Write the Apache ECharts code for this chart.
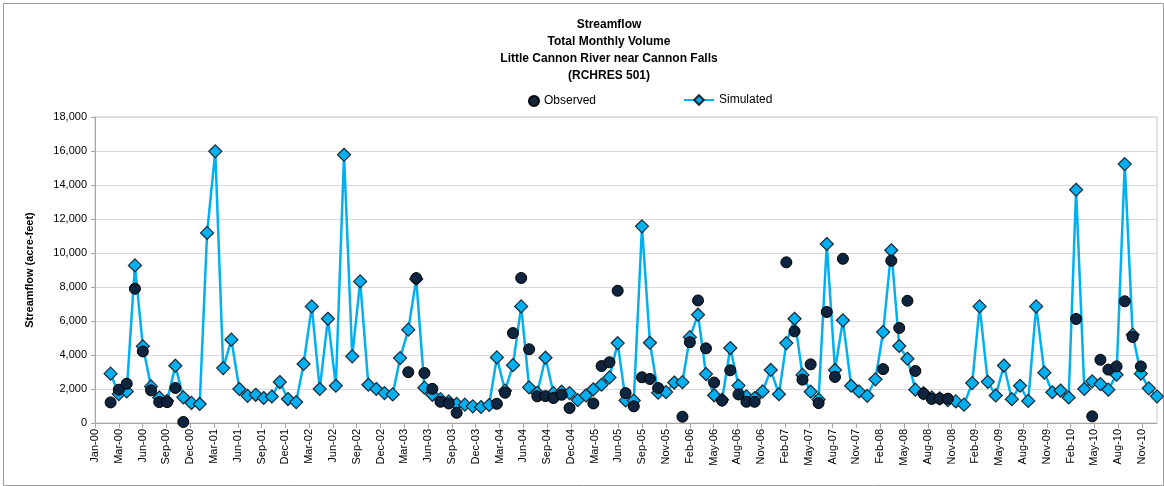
<!DOCTYPE html>
<html>
<head>
<meta charset="utf-8">
<script src="https://cdn.jsdelivr.net/npm/echarts@6/dist/echarts.min.js"></script>
<style>
html,body{margin:0;padding:0;background:#fff;}
#chart{width:1164px;height:486px;}
</style>
</head>
<body>
<div id="chart"></div>
<script>
// Months (values stamped at month end)
const months = [
  '2000-02','2000-03','2000-04','2000-05','2000-06','2000-07','2000-08','2000-09','2000-10','2000-11','2000-12',
  '2001-01','2001-02','2001-03','2001-04','2001-05','2001-06','2001-07','2001-08','2001-09','2001-10','2001-11','2001-12',
  '2002-01','2002-02','2002-03','2002-04','2002-05','2002-06','2002-07','2002-08','2002-09','2002-10','2002-11','2002-12',
  '2003-01','2003-02','2003-03','2003-04','2003-05','2003-06','2003-07','2003-08','2003-09','2003-10','2003-11','2003-12',
  '2004-01','2004-02','2004-03','2004-04','2004-05','2004-06','2004-07','2004-08','2004-09','2004-10','2004-11','2004-12',
  '2005-01','2005-02','2005-03','2005-04','2005-05','2005-06','2005-07','2005-08','2005-09','2005-10','2005-11','2005-12',
  '2006-01','2006-02','2006-03','2006-04','2006-05','2006-06','2006-07','2006-08','2006-09','2006-10','2006-11','2006-12',
  '2007-01','2007-02','2007-03','2007-04','2007-05','2007-06','2007-07','2007-08','2007-09','2007-10','2007-11','2007-12',
  '2008-01','2008-02','2008-03','2008-04','2008-05','2008-06','2008-07','2008-08','2008-09','2008-10','2008-11','2008-12',
  '2009-01','2009-02','2009-03','2009-04','2009-05','2009-06','2009-07','2009-08','2009-09','2009-10','2009-11','2009-12',
  '2010-01','2010-02','2010-03','2010-04','2010-05','2010-06','2010-07','2010-08','2010-09','2010-10','2010-11','2010-12'
];

const simulated = [
  2900,1700,1860,9270,4510,2150,1500,1300,3370,1510,1180,
  1120,11180,15980,3230,4900,2000,1600,1660,1470,1560,2410,1410,
  1230,3470,6860,2000,6130,2190,15780,3920,8330,2250,2000,1760,
  1680,3820,5490,8470,2080,1660,1400,1270,1120,1080,980,940,
  1060,3860,1900,3400,6860,2100,1780,3840,1760,1840,1760,1350,
  1620,1980,2250,2680,4700,1330,1320,11570,4720,1780,1820,2380,
  2400,5050,6370,2880,1630,1370,4410,2200,1570,1470,1860,3120,
  1690,4700,6130,2830,1840,1380,10530,3120,6040,2190,1860,1600,
  2570,5350,10160,4530,3780,1960,1760,1500,1450,1350,1270,1080,
  2350,6860,2420,1620,3380,1400,2190,1300,6860,2960,1810,1910,
  1500,13720,2000,2450,2290,1960,2840,15230,5190,2900,2040,1570
];

const observed = [
  1210,1960,2310,7900,4210,1920,1230,1230,2060,60,null,
  null,null,null,null,null,null,null,null,null,null,null,null,
  null,null,null,null,null,null,null,null,null,null,null,null,
  null,null,2990,8520,2940,2010,1250,1150,600,null,null,null,
  null,1130,1780,5290,8530,4340,1570,1580,1470,1660,880,null,
  null,1150,3350,3570,7780,1760,980,2690,2590,2060,null,null,
  370,4750,7210,4390,2380,1320,3100,1680,1250,1250,null,null,
  null,9450,5390,2550,3450,1170,6530,2710,9660,null,null,null,
  null,3170,9550,5590,7190,3060,1720,1420,1430,1430,null,null,
  null,null,null,null,null,null,null,null,null,null,null,null,
  null,6120,null,390,3720,3140,3330,7160,5060,3330,null,null
];

const monthNames = ['Jan','Feb','Mar','Apr','May','Jun','Jul','Aug','Sep','Oct','Nov','Dec'];
const DAY = 86400000;
const ORIGIN = Date.UTC(2000, 0, 1);
const AXIS_END = Date.UTC(2010, 11, 31);
const TICK_DAYS = 90;

function monthEndDay(s) {
  const [y, m] = s.split('-').map(Number);
  return Math.round((Date.UTC(y, m, 0) - ORIGIN) / DAY);
}
const xDays = months.map(monthEndDay);
const simData = months.map((m, i) => [xDays[i], simulated[i]]);
const obsData = months.map((m, i) => [xDays[i], observed[i]]).filter(d => d[1] !== null);

const maxDay = Math.round((AXIS_END - ORIGIN) / DAY);
const tickVals = [];
for (let d = 0; d <= maxDay; d += TICK_DAYS) tickVals.push(d);

function fmtDay(v) {
  const d = new Date(ORIGIN + v * DAY);
  return monthNames[d.getUTCMonth()] + '-' + String(d.getUTCFullYear() % 100).padStart(2, '0');
}

const FONT = 'Liberation Sans, Arial, sans-serif';
const chart = echarts.init(document.getElementById('chart'), null, {renderer: 'canvas'});
chart.setOption({
  animation: false,
  backgroundColor: '#ffffff',
  title: {
    text: 'Streamflow\nTotal Monthly Volume\nLittle Cannon River near Cannon Falls\n(RCHRES 501)',
    left: 604, top: 11, textAlign: 'center',
    textStyle: {fontFamily: FONT, fontSize: 12, fontWeight: 'bold', color: '#000', lineHeight: 17}
  },
  legend: [
    {
      data: [{name: 'Observed', icon: 'circle'}],
      left: 523, top: 90, itemWidth: 10, itemHeight: 10, itemGap: 4,
      textStyle: {fontFamily: FONT, fontSize: 12, color: '#000'}
    },
    {
      data: [{name: 'Simulated'}],
      left: 678, top: 89, itemWidth: 30, itemHeight: 12, itemGap: 3,
      textStyle: {fontFamily: FONT, fontSize: 12, color: '#000'}
    }
  ],
  graphic: [{
    type: 'rect', left: 1, top: 1, silent: true,
    shape: {width: 1160, height: 482},
    style: {fill: 'none', stroke: '#9a9a9a', lineWidth: 1}
  }],
  grid: {left: 95, right: 7, top: 117, bottom: 63, show: true, borderColor: '#c8c8c8', borderWidth: 1},
  xAxis: {
    type: 'value', min: 0, max: maxDay,
    axisLine: {show: true, lineStyle: {color: '#a6a6a6'}},
    axisTick: {show: true, customValues: tickVals, length: 5, lineStyle: {color: '#a6a6a6'}},
    axisLabel: {
      customValues: tickVals, rotate: 90, formatter: fmtDay,
      fontFamily: FONT, fontSize: 11, color: '#000', margin: 6
    },
    splitLine: {show: false}
  },
  yAxis: {
    type: 'value', min: 0, max: 18000, interval: 2000,
    name: 'Streamflow (acre-feet)', nameLocation: 'middle', nameGap: 60, nameRotate: 90,
    nameTextStyle: {fontFamily: FONT, fontSize: 11, fontWeight: 'bold', color: '#000'},
    axisLine: {show: true, lineStyle: {color: '#a6a6a6'}},
    axisTick: {show: true, length: 4, lineStyle: {color: '#a6a6a6'}},
    axisLabel: {
      fontFamily: FONT, fontSize: 11, color: '#000', margin: 8,
      formatter: v => v.toLocaleString('en-US')
    },
    splitLine: {show: true, lineStyle: {color: '#d9d9d9', width: 1}}
  },
  series: [
    {
      name: 'Simulated', type: 'line', data: simData,
      symbol: 'diamond', symbolSize: 13, showAllSymbol: true,
      lineStyle: {color: '#00b0f0', width: 2.5},
      itemStyle: {color: '#00b0f0', borderColor: '#1b2733', borderWidth: 1.2, opacity: 1},
      z: 2
    },
    {
      name: 'Observed', type: 'scatter', data: obsData,
      symbol: 'circle', symbolSize: 11,
      itemStyle: {color: '#0f243e', borderColor: '#000000', borderWidth: 1, opacity: 1},
      z: 3
    }
  ]
});
</script>
</body>
</html>
